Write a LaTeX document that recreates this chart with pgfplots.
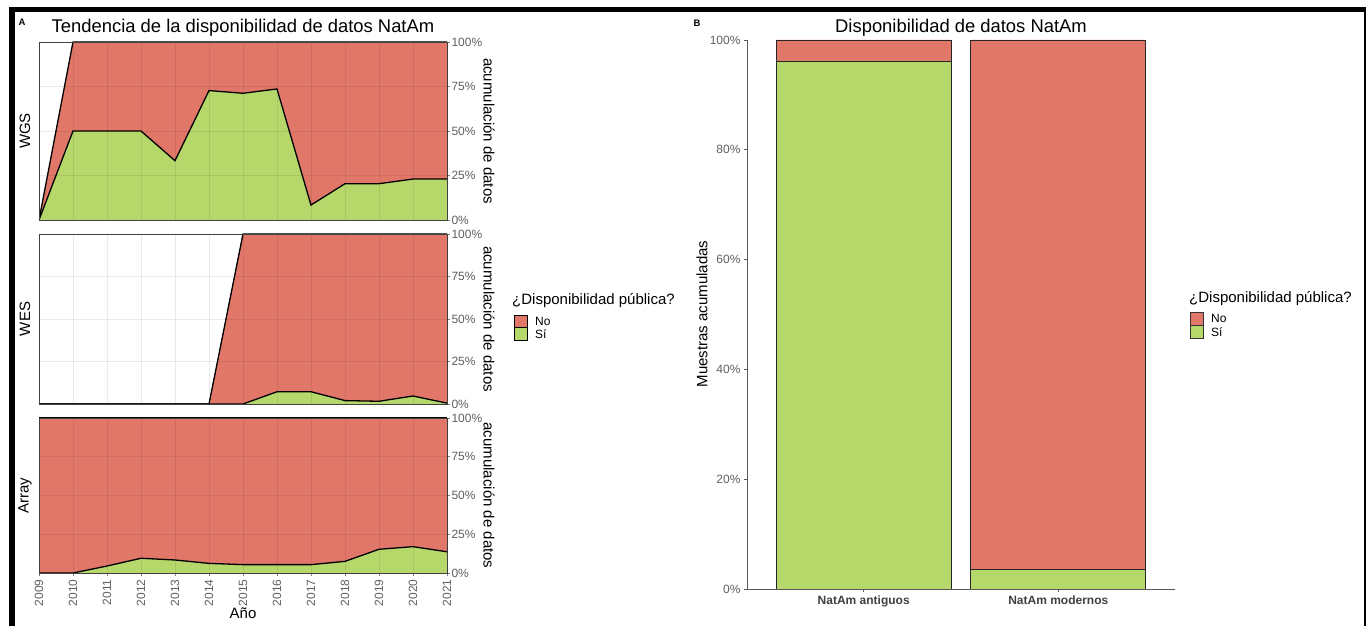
\documentclass[border=0pt]{standalone}
\usepackage{pgfplots}
\pgfplotsset{compat=1.18}
\usepackage{fontspec}
\setmainfont{Liberation Sans}
\definecolor{cno}{RGB}{224,119,105}
\definecolor{csi}{RGB}{182,215,106}
\definecolor{tickgray}{RGB}{95,95,95}
\newcommand{\fs}[1]{\fontsize{#1}{#1}\selectfont}
\pgfplotsset{
 panelA/.style={
   scale only axis, width=408pt, xmin=2009, xmax=2021, ymin=0, ymax=100,
   axis on top, grid=major, grid style={black, opacity=0.08, line width=0.5pt},
   xtick={2009,...,2021}, ytick={0,25,50,75,100},
   yticklabels={0\%,25\%,50\%,75\%,100\%},
   ytick pos=right, yticklabel pos=right,
   tick align=outside, major tick length=3pt,
   ytick style={black!50, line width=0.5pt},
   yticklabel style={font=\fs{12}, text=tickgray, xshift=-2pt},
   axis line style={black!75, line width=0.8pt},
 },
 toppanel/.style={xtick pos=bottom, xticklabels={}, xtick style={draw=none}},
}
\begin{document}
\begin{tikzpicture}[x=1pt,y=1pt]
\path[use as bounding box] (0,0) rectangle (1367,626);
% frame
\fill[black] (9,613.5) rectangle (1366,618.5);
\fill[black] (9,0) rectangle (15,618.5);
\fill[black] (1364,0) rectangle (1366,618.5);
% labels
\node[font=\bfseries\fs{9.5}] at (22,604) {A};
\node[font=\bfseries\fs{9.5}] at (697,603) {B};
\node[font=\fs{18.4}, anchor=base] at (243,593.5) {Tendencia de la disponibilidad de datos NatAm};
\node[font=\fs{18.4}, anchor=base] at (961,593.5) {Disponibilidad de datos NatAm};

% WGS
\begin{axis}[panelA, toppanel, at={(39pt,406pt)}, anchor=south west, height=178pt]
\addplot[fill=cno, draw=none] coordinates {(2009,0)(2010,100)(2011,100)(2012,100)(2013,100)(2014,100)(2015,100)(2016,100)(2017,100)(2018,100)(2019,100)(2020,100)(2021,100)} \closedcycle;
\addplot[fill=csi, draw=none] coordinates {(2009,0)(2010,50)(2011,50)(2012,50)(2013,33.3)(2014,72.7)(2015,71.2)(2016,73.6)(2017,8.4)(2018,20.4)(2019,20.4)(2020,23)(2021,23)} \closedcycle;
\addplot[black, line width=1.3pt] coordinates {(2009,0)(2010,100)(2011,100)(2012,100)(2013,100)(2014,100)(2015,100)(2016,100)(2017,100)(2018,100)(2019,100)(2020,100)(2021,100)};
\addplot[black, line width=1.3pt] coordinates {(2009,0)(2010,50)(2011,50)(2012,50)(2013,33.3)(2014,72.7)(2015,71.2)(2016,73.6)(2017,8.4)(2018,20.4)(2019,20.4)(2020,23)(2021,23)};
\end{axis}

% WES
\begin{axis}[panelA, toppanel, at={(39pt,222pt)}, anchor=south west, height=170pt]
\addplot[fill=cno, draw=none] coordinates {(2009,0)(2010,0)(2011,0)(2012,0)(2013,0)(2014,0)(2015,100)(2016,100)(2017,100)(2018,100)(2019,100)(2020,100)(2021,100)} \closedcycle;
\addplot[fill=csi, draw=none] coordinates {(2009,0)(2010,0)(2011,0)(2012,0)(2013,0)(2014,0)(2015,0)(2016,7.2)(2017,7.2)(2018,2.0)(2019,1.6)(2020,4.7)(2021,0.5)} \closedcycle;
\addplot[black, line width=1.3pt] coordinates {(2009,0)(2010,0)(2011,0)(2012,0)(2013,0)(2014,0)(2015,100)(2016,100)(2017,100)(2018,100)(2019,100)(2020,100)(2021,100)};
\addplot[black, line width=1.3pt] coordinates {(2009,0)(2010,0)(2011,0)(2012,0)(2013,0)(2014,0)(2015,0)(2016,7.2)(2017,7.2)(2018,2.0)(2019,1.6)(2020,4.7)(2021,0.5)};
\end{axis}

% Array
\begin{axis}[panelA, at={(39pt,53pt)}, anchor=south west, height=155pt,
  xtick pos=bottom,
  xticklabels={2009,2010,2011,2012,2013,2014,2015,2016,2017,2018,2019,2020,2021},
  xtick style={black!50, line width=0.5pt},
  xticklabel style={rotate=90, anchor=east, font=\fs{12}, text=tickgray}]
\addplot[fill=cno, draw=none] coordinates {(2009,100)(2010,100)(2011,100)(2012,100)(2013,100)(2014,100)(2015,100)(2016,100)(2017,100)(2018,100)(2019,100)(2020,100)(2021,100)} \closedcycle;
\addplot[fill=csi, draw=none] coordinates {(2009,0)(2010,0)(2011,4.5)(2012,9.5)(2013,8.4)(2014,6.2)(2015,5.4)(2016,5.4)(2017,5.4)(2018,7.5)(2019,15.3)(2020,17)(2021,13.7)} \closedcycle;
\addplot[black, line width=1.3pt] coordinates {(2009,100)(2010,100)(2011,100)(2012,100)(2013,100)(2014,100)(2015,100)(2016,100)(2017,100)(2018,100)(2019,100)(2020,100)(2021,100)};
\addplot[black, line width=1.3pt] coordinates {(2009,0)(2010,0)(2011,4.5)(2012,9.5)(2013,8.4)(2014,6.2)(2015,5.4)(2016,5.4)(2017,5.4)(2018,7.5)(2019,15.3)(2020,17)(2021,13.7)};
\end{axis}

% facet / axis labels A
\node[rotate=90, font=\fs{15}] at (25,495) {WGS};
\node[rotate=90, font=\fs{15}] at (25,307) {WES};
\node[rotate=90, font=\fs{15}] at (25,130.5) {Array};
\node[rotate=-90, font=\fs{15}] at (489,495) {acumulación de datos};
\node[rotate=-90, font=\fs{15}] at (489,307) {acumulación de datos};
\node[rotate=-90, font=\fs{15}] at (489,130.5) {acumulación de datos};
\node[font=\fs{15}] at (243,13) {Año};

% legend A
\node[anchor=west, font=\fs{15}, inner sep=0pt] at (512,325) {¿Disponibilidad pública?};
\draw[fill=cno, draw=black, line width=0.8pt] (514,298.5) rectangle (527,311);
\draw[fill=csi, draw=black, line width=0.8pt] (514,285.5) rectangle (527,298.5);
\node[anchor=west, font=\fs{12}, inner sep=0pt] at (535,304.75) {No};
\node[anchor=west, font=\fs{12}, inner sep=0pt] at (535,292) {Sí};

% Panel B
\begin{axis}[scale only axis, at={(747pt,37pt)}, anchor=south west,
  width=428pt, height=549pt, xmin=0.4, xmax=2.6, ymin=0, ymax=100,
  axis lines*=left, axis line style={black!65, line width=0.8pt},
  ybar stacked, bar width=0.9,
  xtick={1,2}, xticklabels={NatAm antiguos, NatAm modernos},
  ytick={0,20,40,60,80,100}, yticklabels={0\%,20\%,40\%,60\%,80\%,100\%},
  tick align=outside, major tick length=3pt,
  tick style={black!65, line width=0.6pt},
  yticklabel style={font=\fs{12}, text=tickgray},
  xticklabel style={font=\bfseries\fs{12}, text=black!75},
  ]
\addplot[fill=csi, draw=black!85, line width=0.7pt] coordinates {(1,96.2) (2,3.6)};
\addplot[fill=cno, draw=black!85, line width=0.7pt] coordinates {(1,3.8) (2,96.4)};
\end{axis}
\node[rotate=90, font=\fs{15}] at (702,312) {Muestras acumuladas};

% legend B
\node[anchor=west, font=\fs{15}, inner sep=0pt] at (1189,327) {¿Disponibilidad pública?};
\draw[fill=cno, draw=black!80, line width=0.7pt] (1190,301) rectangle (1203,313.3);
\draw[fill=csi, draw=black!80, line width=0.7pt] (1190,288) rectangle (1203,300.3);
\node[anchor=west, font=\fs{12}, inner sep=0pt] at (1211,307.2) {No};
\node[anchor=west, font=\fs{12}, inner sep=0pt] at (1211,294.2) {Sí};
\end{tikzpicture}
\end{document}
